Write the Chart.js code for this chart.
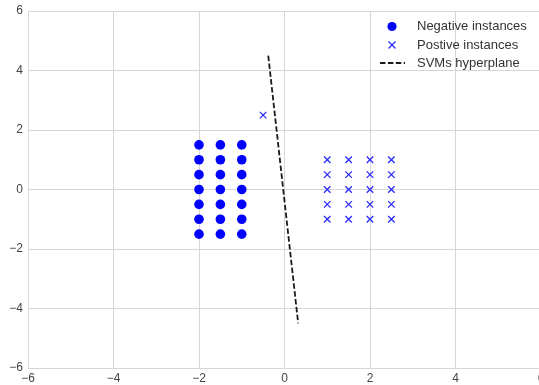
<!DOCTYPE html>
<html lang="en">
<head>
  <title>SVM hyperplane</title>
  <script src="https://cdn.jsdelivr.net/npm/chart.js"></script>
  <style>
    html, body { margin: 0; padding: 0; overflow: hidden; background: #fff; }
  </style>
</head>
<body>
<canvas id="chart" width="541" height="385"></canvas>

<script>
  // Negative instances (filled circles)
  const negativeX = [-2, -2, -2, -2, -2, -2, -2,
                     -1.5, -1.5, -1.5, -1.5, -1.5, -1.5, -1.5,
                     -1, -1, -1, -1, -1, -1, -1];
  const negativeY = [-1.5, -1, -0.5, 0, 0.5, 1, 1.5,
                     -1.5, -1, -0.5, 0, 0.5, 1, 1.5,
                     -1.5, -1, -0.5, 0, 0.5, 1, 1.5];

  // Positive instances (crosses)
  const positiveX = [1, 1, 1, 1, 1,
                     1.5, 1.5, 1.5, 1.5, 1.5,
                     2, 2, 2, 2, 2,
                     2.5, 2.5, 2.5, 2.5, 2.5,
                     -0.5];
  const positiveY = [-1, -0.5, 0, 0.5, 1,
                     -1, -0.5, 0, 0.5, 1,
                     -1, -0.5, 0, 0.5, 1,
                     -1, -0.5, 0, 0.5, 1,
                     2.5];

  // SVM hyperplane end points
  const hyperX = [-0.38, 0.32];
  const hyperY = [4.5, -4.5];

  const tickValues = [-6, -4, -2, 0, 2, 4, 6];
  const labels = ['Negative instances', 'Postive instances', 'SVMs hyperplane'];

  const toPoints = (xs, ys) => xs.map((x, i) => ({ x: x, y: ys[i] }));

  // legend drawn in the top right corner of the plot
  const cornerLegend = {
    id: 'cornerLegend',
    afterDraw(chart) {
      const ctx = chart.ctx;
      const mx = 392, tx = 417;
      const rows = [26.5, 45, 63];
      ctx.save();
      // circle
      ctx.fillStyle = '#0000ff';
      ctx.beginPath();
      ctx.arc(mx, rows[0], 4.6, 0, Math.PI * 2);
      ctx.fill();
      // cross
      ctx.strokeStyle = '#2a2aff';
      ctx.lineWidth = 1.3;
      ctx.beginPath();
      ctx.moveTo(mx - 3.5, rows[1] - 3.5); ctx.lineTo(mx + 3.5, rows[1] + 3.5);
      ctx.moveTo(mx + 3.5, rows[1] - 3.5); ctx.lineTo(mx - 3.5, rows[1] + 3.5);
      ctx.stroke();
      // dashed line
      ctx.strokeStyle = '#1a1a1a';
      ctx.lineWidth = 1.8;
      ctx.setLineDash([5.5, 2.4]);
      ctx.beginPath();
      ctx.moveTo(380, rows[2]); ctx.lineTo(405, rows[2]);
      ctx.stroke();
      ctx.setLineDash([]);
      // texts
      ctx.fillStyle = '#333';
      ctx.font = '13px "Liberation Sans", Arial, sans-serif';
      ctx.textBaseline = 'middle';
      labels.forEach((t, i) => ctx.fillText(t, tx, rows[i]));
      ctx.restore();
    }
  };

  const ctx = document.getElementById('chart').getContext('2d');
  Chart.defaults.font.family = '"Liberation Sans", Arial, sans-serif';
  Chart.defaults.font.size = 12;

  new Chart(ctx, {
    type: 'scatter',
    data: {
      datasets: [
        {
          label: labels[0],
          data: toPoints(negativeX, negativeY),
          pointStyle: 'circle',
          pointRadius: 4.8,
          backgroundColor: '#0000ff',
          borderColor: '#0000ff',
          borderWidth: 0,
        },
        {
          label: labels[1],
          data: toPoints(positiveX, positiveY),
          pointStyle: 'crossRot',
          pointRadius: 4.6,
          borderColor: '#2a2aff',
          borderWidth: 1.3,
        },
        {
          type: 'line',
          label: labels[2],
          data: toPoints(hyperX, hyperY),
          showLine: true,
          pointRadius: 0,
          borderColor: '#1a1a1a',
          borderWidth: 1.8,
          borderDash: [5.5, 2.4],
          fill: false,
        },
      ],
    },
    options: {
      responsive: false,
      animation: false,
      layout: { autoPadding: false, padding: { top: 11, right: 0, bottom: 0, left: 0 } },
      plugins: {
        legend: { display: false },
        tooltip: { enabled: false },
      },
      scales: {
        x: {
          type: 'linear',
          min: -6,
          max: 6,
          afterBuildTicks: (s) => { s.ticks = tickValues.map(v => ({ value: v })); },
          afterFit: (s) => { s.height = 17; s.paddingLeft = 0; s.paddingRight = 0; },
          ticks: {
            color: '#444',
            padding: 3,
            callback: (v) => (v < 0 ? '\u2212' + Math.abs(v) : String(v)),
          },
          grid: { color: '#d6d6d6', lineWidth: 1, drawTicks: false },
          border: { color: '#d6d6d6', width: 1 },
        },
        y: {
          type: 'linear',
          min: -6,
          max: 6,
          afterBuildTicks: (s) => { s.ticks = tickValues.map(v => ({ value: v })); },
          afterFit: (s) => { s.width = 28; s.paddingTop = 0; s.paddingBottom = 0; },
          ticks: {
            color: '#444',
            padding: 5,
            callback: (v) => (v < 0 ? '\u2212' + Math.abs(v) : String(v)),
          },
          grid: { color: '#d6d6d6', lineWidth: 1, drawTicks: false },
          border: { color: '#d6d6d6', width: 1 },
        },
      },
    },
    plugins: [cornerLegend],
  });
</script>
</body>
</html>
